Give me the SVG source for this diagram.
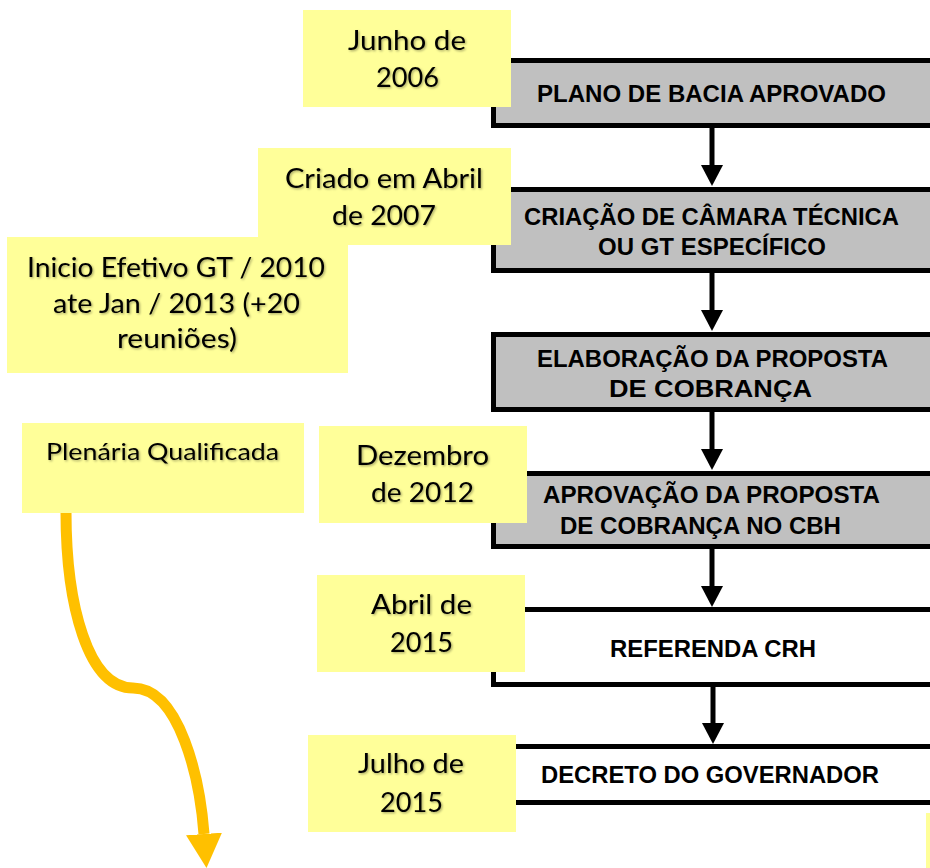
<svg xmlns="http://www.w3.org/2000/svg" width="930" height="868" viewBox="0 0 930 868">
<style>
.step{stroke:#000;stroke-width:5}
.gray{fill:#C0C0C0}
.white{fill:#FFFFFF}
.st{font-family:"Liberation Sans",Arial,sans-serif;font-weight:bold;font-size:23.5px;fill:#000;text-anchor:middle}
.note{fill:#FFFF99}
.nt{font-family:Lato,"Open Sans",sans-serif;font-size:26px;fill:#000;text-anchor:middle;filter:url(#sh)}
.nt.nts{font-size:22.5px}
.conn{stroke:#000;stroke-width:5;fill:none}
.orange{stroke:#FFC000;stroke-width:11;fill:none}
</style>
<defs>
<filter id="sh" x="-10%" y="-30%" width="120%" height="160%">
<feDropShadow dx="1.2" dy="1.2" stdDeviation="0.8" flood-color="#000" flood-opacity="0.35"/>
</filter>
<marker id="ah" markerUnits="userSpaceOnUse" markerWidth="21" markerHeight="22" viewBox="0 0 21 22" refX="0" refY="11" orient="auto">
<path d="M0,0 L21,11 L0,22 Z" fill="#000"/>
</marker>
<marker id="ahO" markerUnits="userSpaceOnUse" markerWidth="34" markerHeight="36" viewBox="0 0 34 36" refX="0" refY="18" orient="auto">
<path d="M0,0 L34,18 L0,36 Z" fill="#FFC000"/>
</marker>
</defs>

<g id="step1">
<rect class="step gray" x="493.5" y="60.5" width="450" height="65"/>
<text class="st" x="711.5" y="102" textLength="349" lengthAdjust="spacingAndGlyphs">PLANO DE BACIA APROVADO</text>
</g>
<g id="step2">
<rect class="step gray" x="493.5" y="189.5" width="450" height="81"/>
<text class="st" x="711.5" y="225" textLength="375" lengthAdjust="spacingAndGlyphs">CRIAÇÃO DE CÂMARA TÉCNICA</text>
<text class="st" x="712" y="255" textLength="228" lengthAdjust="spacingAndGlyphs">OU GT ESPECÍFICO</text>
</g>
<g id="step3">
<rect class="step gray" x="493.5" y="334.5" width="450" height="75"/>
<text class="st" x="712.5" y="367" textLength="351" lengthAdjust="spacingAndGlyphs">ELABORAÇÃO DA PROPOSTA</text>
<text class="st" x="710.5" y="397" textLength="203" lengthAdjust="spacingAndGlyphs">DE COBRANÇA</text>
</g>
<g id="step4">
<rect class="step gray" x="493.5" y="473.5" width="450" height="73"/>
<text class="st" x="711.5" y="503" textLength="337" lengthAdjust="spacingAndGlyphs">APROVAÇÃO DA PROPOSTA</text>
<text class="st" x="700.5" y="534" textLength="281" lengthAdjust="spacingAndGlyphs">DE COBRANÇA NO CBH</text>
</g>
<g id="step5">
<rect class="step white" x="493.5" y="609.5" width="450" height="75"/>
<text class="st" x="713" y="657" textLength="206" lengthAdjust="spacingAndGlyphs">REFERENDA CRH</text>
</g>
<g id="step6">
<rect class="step white" x="493.5" y="746.5" width="450" height="56"/>
<text class="st" x="710" y="783" textLength="338" lengthAdjust="spacingAndGlyphs">DECRETO DO GOVERNADOR</text>
</g>

<g id="connectors">
<line class="conn" x1="712" y1="128" x2="712" y2="165" marker-end="url(#ah)"/>
<line class="conn" x1="712" y1="273" x2="712" y2="310" marker-end="url(#ah)"/>
<line class="conn" x1="712" y1="412" x2="712" y2="449" marker-end="url(#ah)"/>
<line class="conn" x1="712" y1="549" x2="712" y2="586" marker-end="url(#ah)"/>
<line class="conn" x1="713" y1="687" x2="713" y2="723" marker-end="url(#ah)"/>
<path class="orange" d="M66,512 C66,605 88,688 133,688 C180,688 200,780 204,834" marker-end="url(#ahO)"/>
</g>

<g id="note-junho">
<rect class="note" x="303" y="10" width="208" height="97"/>
<text class="nt" x="407" y="50" textLength="118" lengthAdjust="spacingAndGlyphs">Junho de</text>
<text class="nt" x="407.5" y="87" textLength="63" lengthAdjust="spacingAndGlyphs">2006</text>
</g>
<g id="note-criado">
<rect class="note" x="258" y="148" width="253" height="97"/>
<text class="nt" x="384" y="188" textLength="198" lengthAdjust="spacingAndGlyphs">Criado em Abril</text>
<text class="nt" x="384" y="225" textLength="104" lengthAdjust="spacingAndGlyphs">de 2007</text>
</g>
<g id="note-inicio">
<rect class="note" x="7" y="237" width="341" height="136"/>
<text class="nt" x="176" y="277" textLength="298" lengthAdjust="spacingAndGlyphs">Inicio Efetivo GT / 2010</text>
<text class="nt" x="176.5" y="313" textLength="247" lengthAdjust="spacingAndGlyphs">ate Jan / 2013 (+20</text>
<text class="nt" x="177" y="348" textLength="120" lengthAdjust="spacingAndGlyphs">reuniões)</text>
</g>
<g id="note-plenaria">
<rect class="note" x="22" y="423" width="282" height="90"/>
<text class="nt nts" x="162.5" y="460" textLength="233" lengthAdjust="spacingAndGlyphs">Plenária Qualificada</text>
</g>
<g id="note-dezembro">
<rect class="note" x="319" y="426" width="208" height="97"/>
<text class="nt" x="422.5" y="465" textLength="133" lengthAdjust="spacingAndGlyphs">Dezembro</text>
<text class="nt" x="422.5" y="502" textLength="103" lengthAdjust="spacingAndGlyphs">de 2012</text>
</g>
<g id="note-abril">
<rect class="note" x="317" y="575" width="208" height="97"/>
<text class="nt" x="421.5" y="614" textLength="101" lengthAdjust="spacingAndGlyphs">Abril de</text>
<text class="nt" x="421.5" y="652" textLength="63" lengthAdjust="spacingAndGlyphs">2015</text>
</g>
<g id="note-julho">
<rect class="note" x="308" y="735" width="208" height="97"/>
<text class="nt" x="411" y="773" textLength="106" lengthAdjust="spacingAndGlyphs">Julho de</text>
<text class="nt" x="411.5" y="812" textLength="63" lengthAdjust="spacingAndGlyphs">2015</text>
</g>
<g id="note-edge">
<rect class="note" x="926" y="813" width="10" height="60"/>
</g>
</svg>
